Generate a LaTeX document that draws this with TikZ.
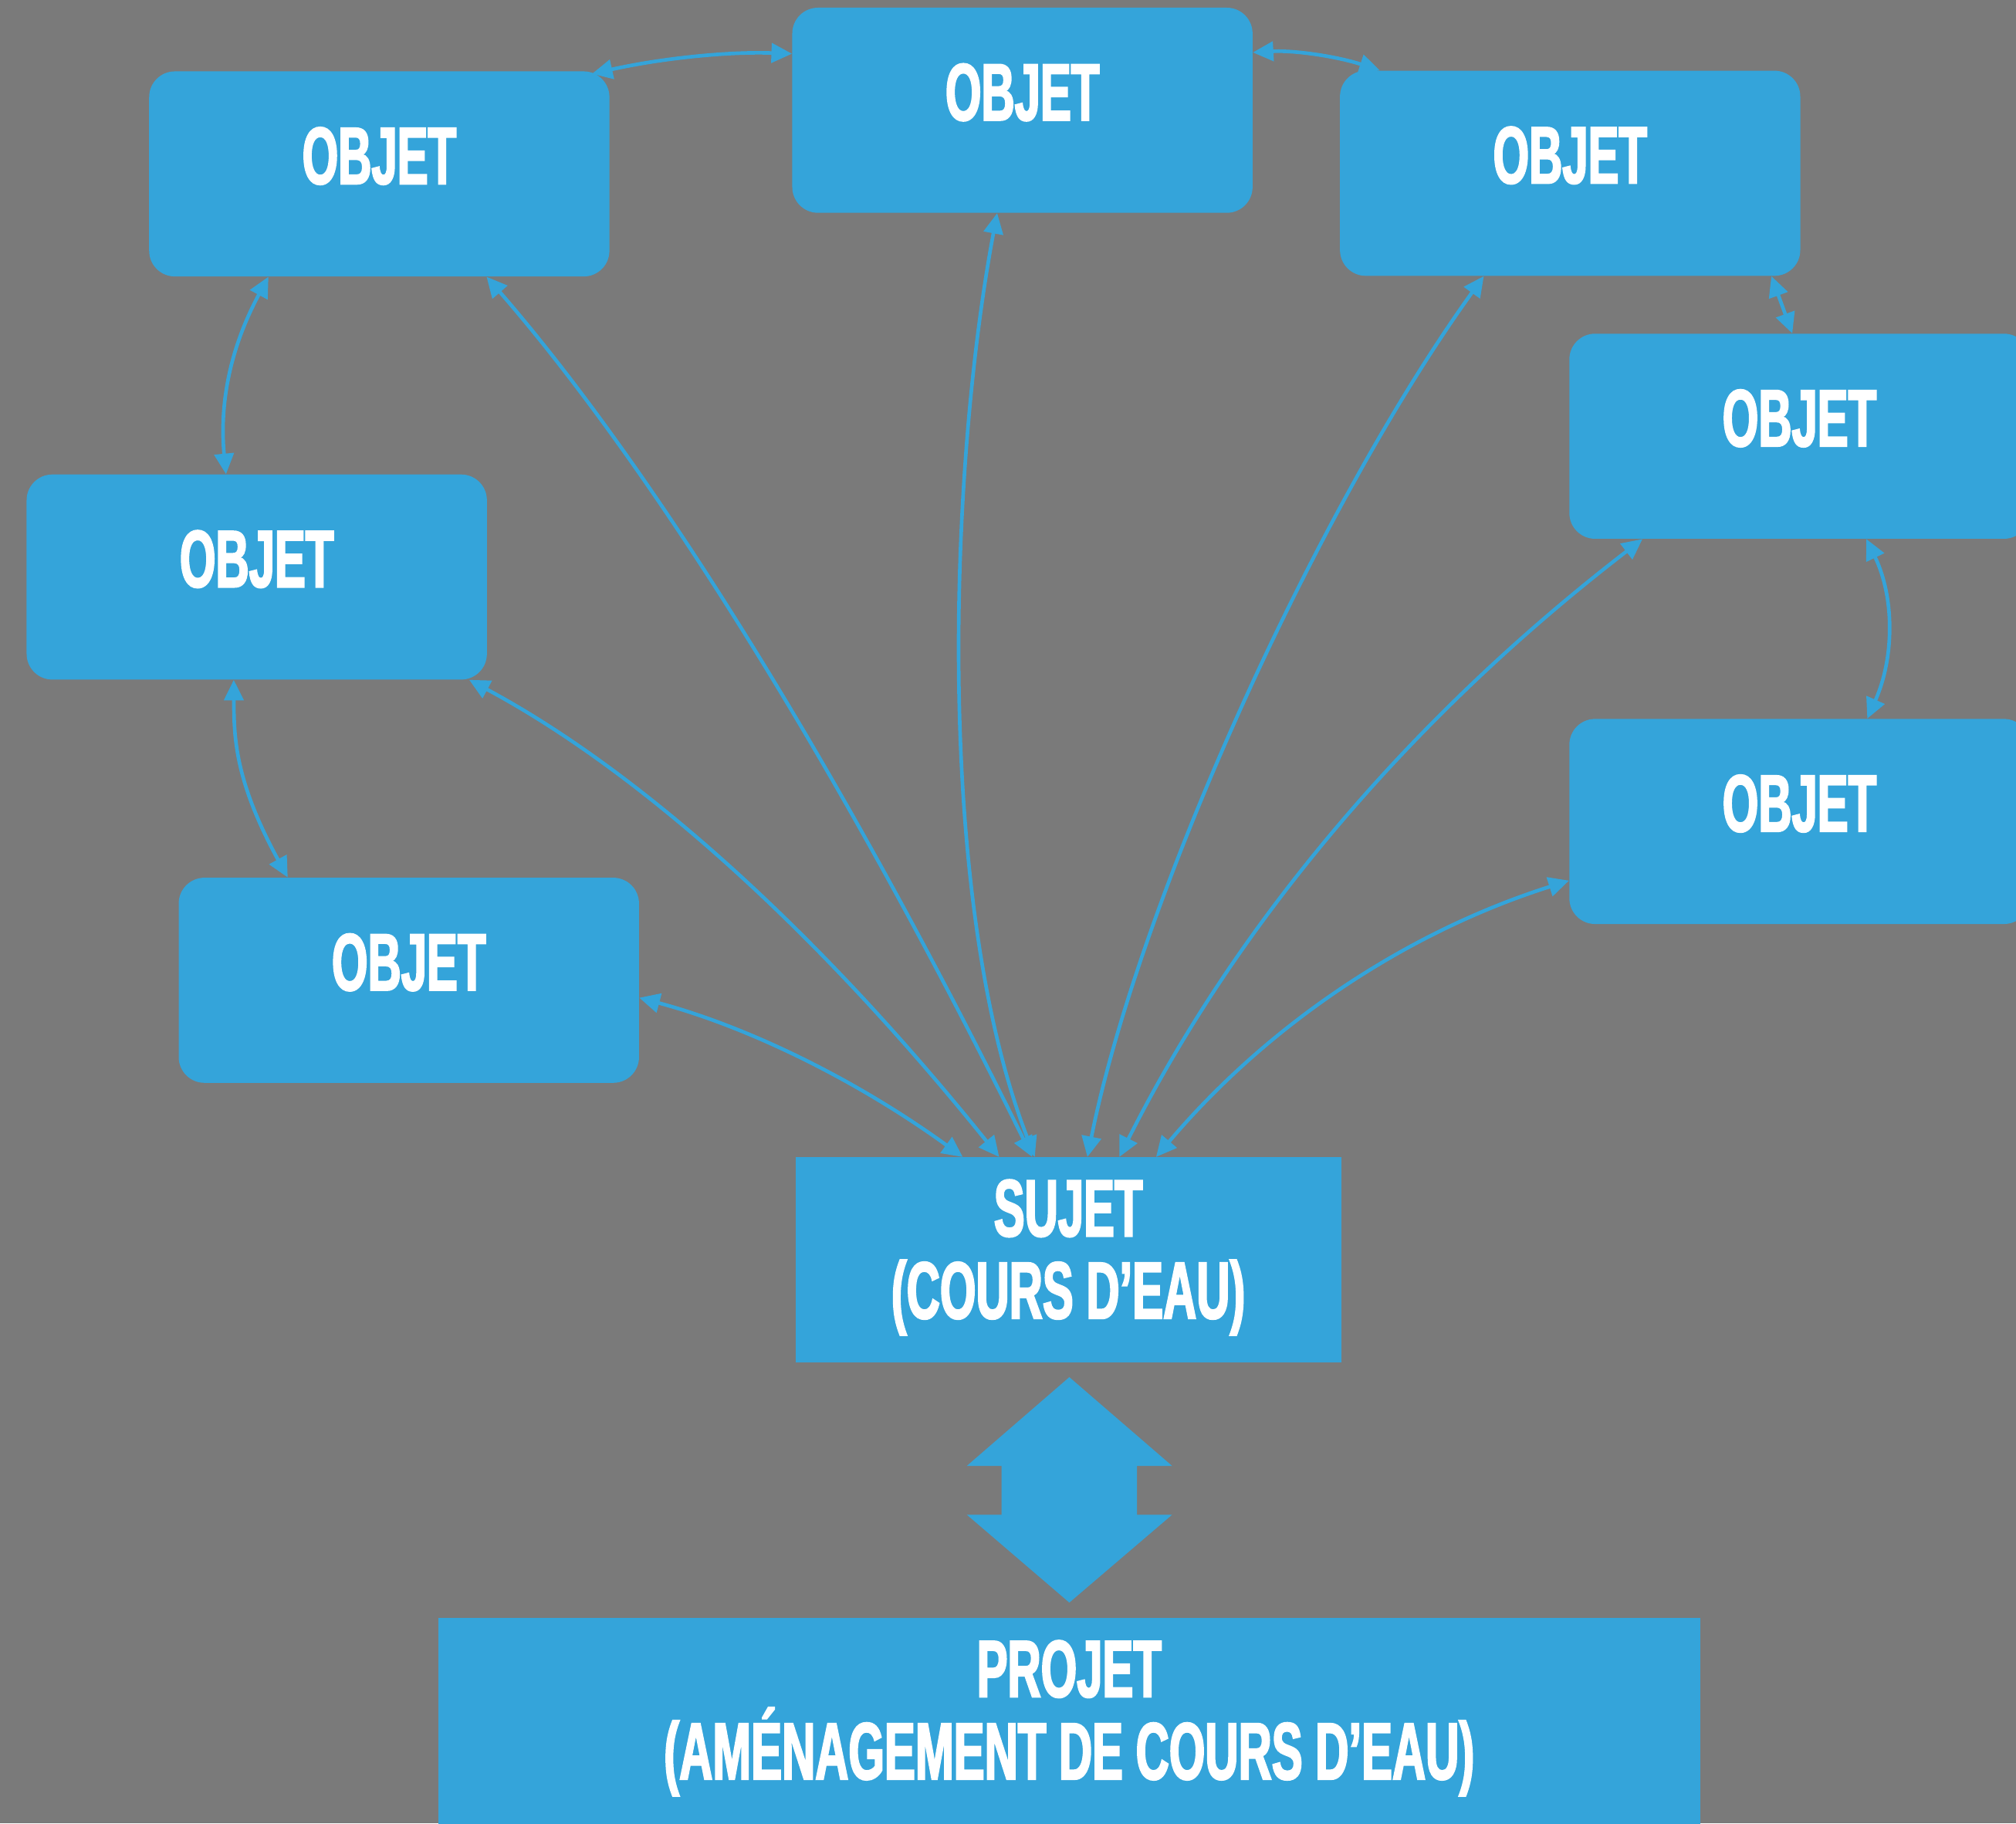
\documentclass[tikz,border=0pt]{standalone}
\usepackage{fontspec}
\usetikzlibrary{arrows.meta,calc}
\newfontfamily\dinfont{Liberation Sans}[FakeStretch=0.57,BoldFeatures={FakeStretch=0.57,FakeBold=2}]
\newcommand\boxtextfont{\dinfont\bfseries\fontsize{63}{64}\selectfont}
\definecolor{bggray}{RGB}{122,122,122}
\definecolor{boxblue}{RGB}{52,164,218}
\tikzset{
  objbox/.style={fill=boxblue, rounded corners=20pt, inner sep=0pt,
    minimum width=358pt, minimum height=159.5pt,
    text height=87.5pt, text depth=72pt, text=white, font=\boxtextfont},
  mainbox/.style={fill=boxblue, inner sep=0pt, text=white, align=center,
    font=\boxtextfont},
  link/.style={draw=boxblue, line width=2.8pt,
    {Triangle[length=16pt,width=15pt]}-{Triangle[length=16pt,width=15pt]}},
}
\begin{document}
\begin{tikzpicture}[x=1pt,y=-1pt]
  \useasboundingbox (0,0) rectangle (1568,1418);
  \clip (0,0) rectangle (1568,1418);
  \fill[bggray] (0,0) rectangle (1568,1418);

  % object boxes
  \node[objbox] (tl) at (295,135.25) {OBJET};
  \node[objbox] (tc) at (795.2,85.75) {OBJET};
  \node[objbox] (tr) at (1221.2,134.75) {OBJET};
  \node[objbox] (r1) at (1399.6,339.25) {OBJET};
  \node[objbox] (r2) at (1399.6,638.85) {OBJET};
  \node[objbox] (l1) at (199.7,448.75) {OBJET};
  \node[objbox] (l2) at (318,762.35) {OBJET};

  % subject and project (text height = top edge to last baseline)
  \node[mainbox, minimum width=424.3pt, minimum height=159.6pt,
        text height=125.4pt, text depth=34.2pt] (sujet) at (830.9,979.8)
        {SUJET\\(COURS D’EAU)};
  \node[mainbox, minimum width=981.8pt, minimum height=200pt,
        text height=125.4pt, text depth=74.6pt] (projet) at (831.6,1358.3)
        {PROJET\\(AMÉNAGEMENT DE COURS D’EAU)};

  % large two-way arrow between subject and project
  \fill[boxblue] (831.7,1071) -- (911.6,1140) -- (884.3,1140) -- (884.3,1178)
    -- (911.6,1178) -- (831.7,1246.3) -- (752,1178) -- (779,1178)
    -- (779,1140) -- (752,1140) -- cycle;

  % links between neighbouring objects
  \draw[link] ($(tl.north east)+(-13.8,2.1)$) .. controls (515,45.2) and (567,40) .. ($(tc.north west)+(0,36)$);
  \draw[link] ($(tc.north east)+(0,35)$) .. controls (1006.2,39) and (1039.2,43.7) .. ($(tr.north west)+(31.3,0)$);
  \draw[link] ($(tl.south west)+(93,0)$) .. controls (176.6,275) and (171,319) .. ($(l1.north west)+(155.3,0)$);
  \draw[link] ($(l1.south west)+(161.3,0)$) .. controls (182,572) and (182,606) .. ($(l2.north west)+(85,0)$);
  \draw[link] ($(tr.south east)+(-22.7,0)$) -- ($(r1.north west)+(173.6,0)$);
  \draw[link] ($(r1.south west)+(231.2,0)$) .. controls (1473.4,464.3) and (1473.6,511) .. ($(r2.north west)+(231.9,0)$);

  % links from each object to the subject
  \draw[link] ($(l2.east)+(0,13.6)$) .. controls (582.3,798.7) and (666.3,840) .. ($(sujet.north west)+(130.3,0)$);
  \draw[link] ($(l1.south east)+(-14,0)$) .. controls (498.3,600.2) and (635.8,724) .. ($(sujet.north west)+(158.6,0)$);
  \draw[link] ($(tl.south east)+(-95.8,0)$) .. controls (507.5,363.7) and (655,600) .. ($(sujet.north west)+(184.3,0)$);
  \draw[link] ($(tc.south west)+(159.6,0)$) .. controls (737.8,366) and (727,700) .. ($(sujet.north west)+(186.3,0)$);
  \draw[link] ($(tr.south west)+(112.1,0)$) .. controls (1024.7,394.5) and (885.9,700) .. ($(sujet.north west)+(227.2,0)$);
  \draw[link] ($(r1.south west)+(57.1,0)$) .. controls (1097.2,558) and (961.7,718.3) .. ($(sujet.north west)+(252,0)$);
  \draw[link] ($(r2.south west)+(0,-34)$) .. controls (1093.5,725) and (986.4,796.7) .. ($(sujet.north west)+(280.6,0)$);
\end{tikzpicture}
\end{document}
